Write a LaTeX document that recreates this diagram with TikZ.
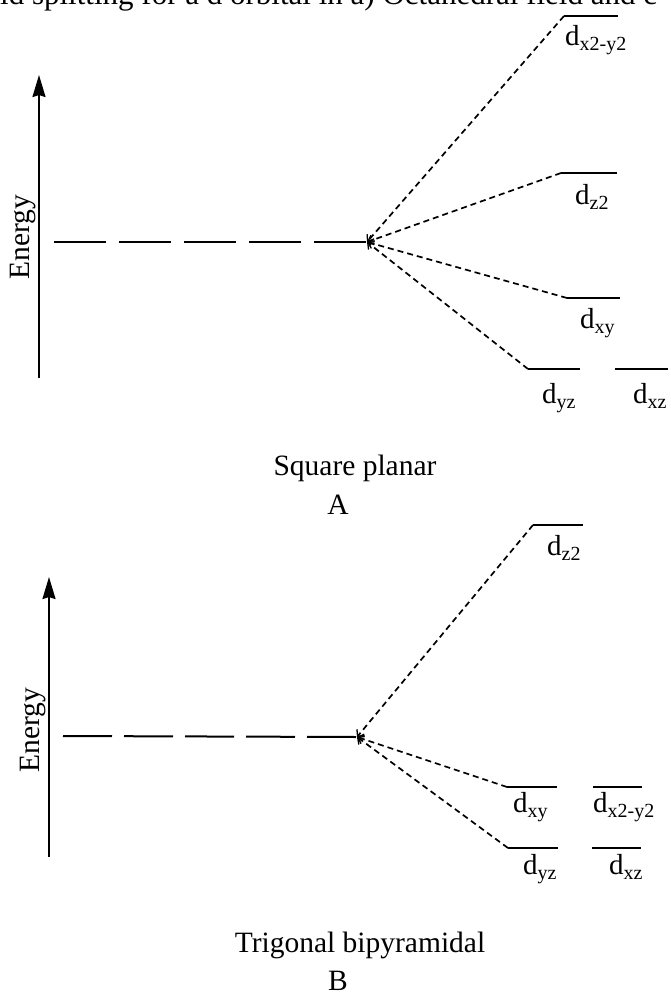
\documentclass[tikz,border=0pt]{standalone}
\usepackage{fontspec}
\setmainfont{Liberation Serif}
\usetikzlibrary{arrows.meta}
\newcommand{\orb}[1]{{\fontsize{29}{29}\selectfont d}\raisebox{-5pt}{\fontsize{20}{20}\selectfont #1}}
\begin{document}
\begin{tikzpicture}[x=1pt,y=-1pt,
  axis/.style={line width=2pt,-{Stealth[length=22pt,width=13pt,inset=2pt]}},
  level/.style={line width=2pt},
  degenA/.style={line width=2pt, dash pattern=on 52pt off 13pt},
  degenB/.style={line width=2pt, dash pattern=on 49pt off 12pt},
  split/.style={line width=1.7pt, dash pattern=on 6pt off 4pt, -{Straight Barb[length=5pt,width=10pt,line width=1.3pt]}},
  lab/.style={anchor=base west, inner sep=0pt},
  txt/.style={inner sep=0pt, font=\fontsize{29.5}{31}\selectfont},
  captxt/.style={txt, anchor=base}]
\clip (0,0) rectangle (670,994);
% title (cropped)
\node[anchor=base west, inner sep=0pt, font=\fontsize{31}{31}\selectfont] (title) at (0,4) {ld splitting for a d orbital in a) Octahedral field and c};

% ---------- Panel A ----------
\coordinate (axA0) at (39,378);
\coordinate (axA1) at (39,75);
\draw[axis] (axA0) -- (axA1);
\node[txt, rotate=90] (enA) at (23,237) {Energy};
\coordinate (dA) at (54,242);
\coordinate (cA) at (367,242);
\draw[degenA] (dA) -- (cA);
% levels
\coordinate (x2Al) at (564,16);  \coordinate (x2Ar) at (618,16);
\coordinate (z2Al) at (561,173); \coordinate (z2Ar) at (617,173);
\coordinate (xyAl) at (567,298); \coordinate (xyAr) at (620,298);
\coordinate (yzAl) at (528,369); \coordinate (yzAr) at (580,369);
\coordinate (xzAl) at (615,369); \coordinate (xzAr) at (668,369);
\foreach \n in {x2A,z2A,xyA,yzA,xzA} {\draw[level] (\n l) -- (\n r);}
\foreach \n in {x2A,z2A,xyA,yzA} {\draw[split] (\n l) -- (cA);}
\node[lab] (lx2A) at (565,45)  {\orb{x2-y2}};
\node[lab] (lz2A) at (575,204) {\orb{z2}};
\node[lab] (lxyA) at (580,328) {\orb{xy}};
\node[lab] (lyzA) at (542,403) {\orb{yz}};
\node[lab] (lxzA) at (633,403) {\orb{xz}};
\node[captxt] (capA) at (355,475) {Square planar};
\node[captxt] (letA) at (338,514) {A};

% ---------- Panel B ----------
\coordinate (axB0) at (49,857);
\coordinate (axB1) at (49,577);
\draw[axis] (axB0) -- (axB1);
\node[txt, rotate=90] (enB) at (33,730) {Energy};
\coordinate (dB) at (63,736);
\coordinate (cB) at (357,737);
\draw[degenB] (dB) -- (cB);
\coordinate (z2Bl) at (533,525); \coordinate (z2Br) at (583,525);
\coordinate (xyBl) at (507,787); \coordinate (xyBr) at (557,787);
\coordinate (x2Bl) at (593,787); \coordinate (x2Br) at (642,787);
\coordinate (yzBl) at (508,848); \coordinate (yzBr) at (558,848);
\coordinate (xzBl) at (592,848); \coordinate (xzBr) at (641,848);
\foreach \n in {z2B,xyB,x2B,yzB,xzB} {\draw[level] (\n l) -- (\n r);}
\foreach \n in {z2B,xyB,yzB} {\draw[split] (\n l) -- (cB);}
\node[lab] (lz2B) at (547,555) {\orb{z2}};
\node[lab] (lxyB) at (513,812) {\orb{xy}};
\node[lab] (lx2B) at (593,812) {\orb{x2-y2}};
\node[lab] (lyzB) at (523,874) {\orb{yz}};
\node[lab] (lxzB) at (609,874) {\orb{xz}};
\node[captxt] (capB) at (360,952) {Trigonal bipyramidal};
\node[captxt] (letB) at (338,990) {B};
\end{tikzpicture}
\end{document}
